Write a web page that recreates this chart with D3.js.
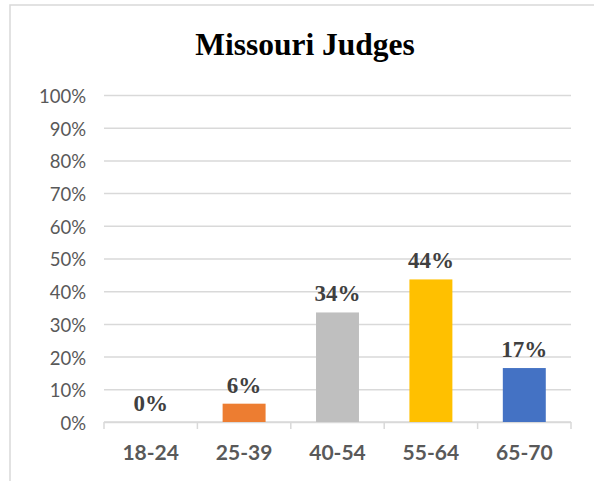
<!DOCTYPE html>
<html>
<head>
<meta charset="utf-8">
<script src="https://cdn.jsdelivr.net/npm/d3@7"></script>
<style>
  html, body { margin: 0; padding: 0; background: #fff; }
  svg { display: block; }
</style>
</head>
<body>
<div id="chart"></div>
<script>
// age groups and share of judges (%)
const categories = ["18-24", "25-39", "40-54", "55-64", "65-70"];
const values = [0, 5.6, 33.5, 43.6, 16.5];
const labels = ["0%", "6%", "34%", "44%", "17%"];
const colors = ["#ED7D31", "#ED7D31", "#BFBFBF", "#FFC000", "#4472C4"];
const yTicks = [0, 10, 20, 30, 40, 50, 60, 70, 80, 90, 100];

const width = 594, height = 481;
const plotLeft = 104, plotRight = 571, plotTop = 95, plotBottom = 422;

const svg = d3.select("#chart")
    .append("svg")
    .attr("width", width)
    .attr("height", height);

// chart border (only top and left visible in the crop)
svg.append("rect")
    .attr("x", 10)
    .attr("y", 5)
    .attr("width", 600)
    .attr("height", 500)
    .attr("fill", "none")
    .attr("stroke", "#d9d9d9")
    .attr("stroke-width", 1.5);

const x = d3.scaleBand()
    .domain(categories)
    .range([plotLeft, plotRight])
    .paddingInner(0.54)
    .paddingOuter(0.27);

const y = d3.scaleLinear()
    .domain([0, 100])
    .range([plotBottom, plotTop]);

// gridlines + y labels
const yAxis = svg.append("g")
    .attr("transform", `translate(${plotLeft},0)`)
    .call(d3.axisLeft(y)
        .tickValues(yTicks)
        .tickSize(-(plotRight - plotLeft))
        .tickPadding(18)
        .tickFormat(d => d + "%"));
yAxis.select(".domain").remove();
yAxis.selectAll(".tick line")
    .attr("stroke", "#d9d9d9")
    .attr("stroke-width", 1.5);
yAxis.selectAll(".tick text")
    .attr("fill", "#595959")
    .attr("dy", "0.4em")
    .style("font-family", "Lato, sans-serif")
    .style("font-size", "18.5px");

// bottom axis with ticks between categories
const bounds = categories.map((c, i) => plotLeft + i * x.step()).concat([plotRight]);
const xAxis = svg.append("g");
xAxis.append("line")
    .attr("x1", plotLeft).attr("x2", plotRight)
    .attr("y1", plotBottom).attr("y2", plotBottom)
    .attr("stroke", "#d9d9d9")
    .attr("stroke-width", 1.5);
xAxis.selectAll("line.tk")
    .data(bounds)
    .enter()
    .append("line")
    .attr("class", "tk")
    .attr("x1", d => d).attr("x2", d => d)
    .attr("y1", plotBottom).attr("y2", plotBottom + 7)
    .attr("stroke", "#d9d9d9")
    .attr("stroke-width", 1.5);
xAxis.selectAll("text")
    .data(categories)
    .enter()
    .append("text")
    .attr("x", d => x(d) + x.bandwidth() / 2)
    .attr("y", 460)
    .attr("text-anchor", "middle")
    .attr("fill", "#595959")
    .style("font-family", "Lato, sans-serif")
    .style("font-weight", "bold")
    .style("font-size", "21px")
    .text(d => d);

// bars
svg.selectAll("rect.bar")
    .data(values)
    .enter()
    .append("rect")
    .attr("class", "bar")
    .attr("x", (d, i) => x(categories[i]))
    .attr("y", d => y(d))
    .attr("width", x.bandwidth())
    .attr("height", d => y(0) - y(d))
    .attr("fill", (d, i) => colors[i]);

// data labels
svg.selectAll("text.lbl")
    .data(values)
    .enter()
    .append("text")
    .attr("class", "lbl")
    .attr("x", (d, i) => x(categories[i]) + x.bandwidth() / 2)
    .attr("y", d => y(d) - 11)
    .attr("text-anchor", "middle")
    .attr("fill", "#404040")
    .style("font-family", "'Liberation Serif', 'Times New Roman', serif")
    .style("font-weight", "bold")
    .style("font-size", "23px")
    .text((d, i) => labels[i]);

// title
svg.append("text")
    .attr("x", 305)
    .attr("y", 55)
    .attr("text-anchor", "middle")
    .attr("fill", "#000")
    .style("font-family", "'Liberation Serif', 'Times New Roman', serif")
    .style("font-weight", "bold")
    .style("font-size", "31.5px")
    .text("Missouri Judges");
</script>
</body>
</html>
